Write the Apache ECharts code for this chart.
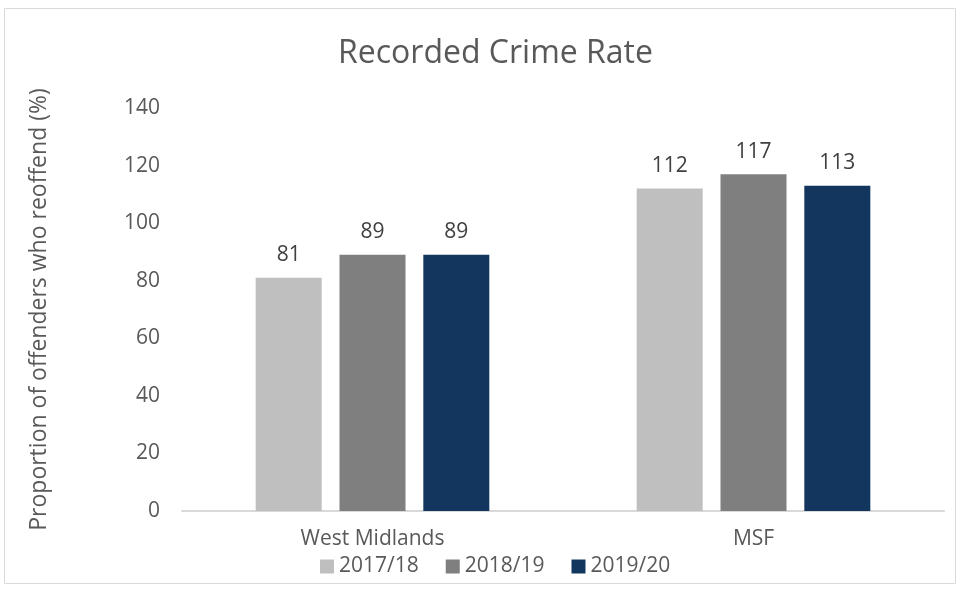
<!DOCTYPE html>
<html>
<head>
<meta charset="utf-8">
<script src="https://cdn.jsdelivr.net/npm/echarts@6/dist/echarts.min.js"></script>
<style>html,body{margin:0;padding:0;background:#fff;}#c{width:961px;height:590px;}</style>
</head>
<body>
<div id="c"></div>
<script>
const categories = ['West Midlands', 'MSF'];
const seriesNames = ['2017/18', '2018/19', '2019/20'];
const values2017 = [81, 112];
const values2018 = [89, 117];
const values2019 = [89, 113];
const colors = ['#BFBFBF', '#7F7F7F', '#12365E'];
const FONT = 'Open Sans';

const chart = echarts.init(document.getElementById('c'), null, {renderer: 'canvas'});
const data = [values2017, values2018, values2019];
chart.setOption({
  animation: false,
  textStyle: {fontFamily: FONT},
  graphic: [{
    type: 'rect', shape: {x: 4.5, y: 8.5, width: 951, height: 575},
    style: {fill: 'none', stroke: '#D9D9D9', lineWidth: 1}, silent: true, z: -1
  }],
  title: {
    text: 'Recorded Crime Rate', left: 333, top: 33,
    textStyle: {fontFamily: FONT, fontSize: 32, fontWeight: 'normal', color: '#595959'}
  },
  legend: {
    bottom: 8, left: 315, itemWidth: 14, itemHeight: 14, itemGap: 27, itemSpacing: 6,
    icon: 'rect',
    textStyle: {fontFamily: FONT, fontSize: 21, color: '#595959'},
    data: seriesNames
  },
  grid: {left: 182, right: 17, top: 108, bottom: 79},
  xAxis: {
    type: 'category', data: categories,
    axisLine: {lineStyle: {color: '#D9D9D9', width: 2}},
    axisTick: {show: false},
    axisLabel: {fontFamily: FONT, fontSize: 21, color: '#595959', margin: 18}
  },
  yAxis: {
    type: 'value', min: 0, max: 140, interval: 20,
    name: 'Proportion of offenders who reoffend (%)',
    nameLocation: 'middle', nameGap: 131,
    nameTextStyle: {fontFamily: FONT, fontSize: 23, color: '#595959'},
    splitLine: {show: false},
    axisLine: {show: false},
    axisTick: {show: false},
    axisLabel: {fontFamily: FONT, fontSize: 21, color: '#595959', margin: 22}
  },
  series: seriesNames.map((n, i) => ({
    name: n, type: 'bar', data: data[i],
    barWidth: 66, barGap: '27%',
    itemStyle: {color: colors[i]},
    label: {show: true, position: 'top', distance: 12, fontFamily: FONT, fontSize: 21, color: '#404040'}
  }))
});
</script>
</body>
</html>
